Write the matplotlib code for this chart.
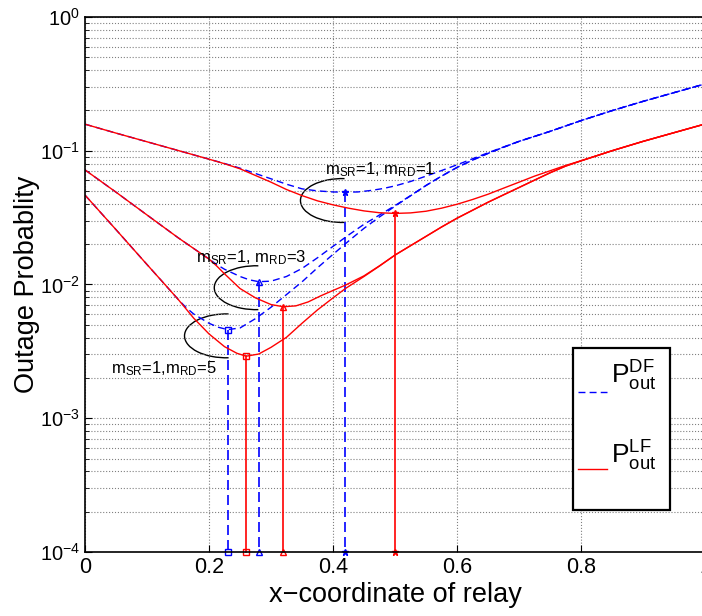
import numpy as np
import matplotlib
matplotlib.use("Agg")
import matplotlib.pyplot as plt
from matplotlib.patches import Arc, Rectangle

plt.rcParams['font.family'] = ['Liberation Sans', 'DejaVu Sans']
plt.rcParams['mathtext.fontset'] = 'custom'
plt.rcParams['mathtext.rm'] = 'Liberation Sans'
plt.rcParams['mathtext.it'] = 'Liberation Sans:italic'
plt.rcParams['mathtext.default'] = 'regular'

# m_SR=1, m_RD=1
x_df1 = [0, 0.05, 0.1, 0.15, 0.2, 0.225, 0.25, 0.275, 0.3, 0.325, 0.35, 0.375, 0.4, 0.42, 0.44,
         0.46, 0.48, 0.5, 0.525, 0.55, 0.575, 0.6, 0.625, 0.65, 0.675, 0.7, 0.75, 0.8, 0.85,
         0.9, 0.95, 1.0]
p_df1 = [0.158, 0.1355, 0.1167, 0.1005, 0.0865, 0.0803, 0.0741, 0.0676, 0.0617, 0.0562, 0.0519,
         0.0501, 0.0492, 0.0490, 0.0492, 0.0504, 0.0521, 0.0546, 0.0589, 0.0646, 0.0711, 0.0785,
         0.0871, 0.0966, 0.1067, 0.1175, 0.1396, 0.168, 0.1995, 0.234, 0.272, 0.316]
x_lf1 = [0, 0.05, 0.1, 0.15, 0.2, 0.225, 0.25, 0.275, 0.3, 0.325, 0.35, 0.375, 0.4, 0.425, 0.45,
         0.475, 0.5, 0.525, 0.55, 0.575, 0.6, 0.625, 0.65, 0.675, 0.7, 0.725, 0.75, 0.775, 0.8,
         0.85, 0.9, 0.95, 1.0]
p_lf1 = [0.158, 0.1355, 0.1167, 0.1005, 0.0865, 0.0800, 0.0733, 0.0653, 0.0582, 0.0513, 0.0462,
         0.0422, 0.0394, 0.0372, 0.0355, 0.0344, 0.0340, 0.0343, 0.0353, 0.0372, 0.0398, 0.0432,
         0.0473, 0.0525, 0.0582, 0.0646, 0.0708, 0.0776, 0.0841, 0.100, 0.1175, 0.1365, 0.1585]

# m_SR=1, m_RD=3
x_df3 = [0, 0.05, 0.1, 0.15, 0.175, 0.2, 0.2125, 0.225, 0.25, 0.265, 0.28, 0.3, 0.325, 0.35,
         0.375, 0.4, 0.425, 0.45, 0.475, 0.5, 0.525, 0.55, 0.575, 0.6, 0.625, 0.65, 0.675, 0.7,
         0.75, 0.8, 0.85, 0.9, 0.95, 1.0]
p_df3 = [0.0719, 0.0490, 0.0331, 0.0224, 0.01862, 0.0155, 0.0141, 0.0130, 0.01148, 0.01084,
         0.01050, 0.01059, 0.01148, 0.01318, 0.01585, 0.01928, 0.02344, 0.0282, 0.0331, 0.0389,
         0.0462, 0.0550, 0.0646, 0.0750, 0.0851, 0.0955, 0.1062, 0.1175, 0.1396, 0.168, 0.1995,
         0.234, 0.272, 0.316]
x_lf3 = [0, 0.05, 0.1, 0.15, 0.175, 0.2, 0.2125, 0.225, 0.25, 0.275, 0.3, 0.32, 0.34, 0.36, 0.38,
         0.4, 0.42, 0.45, 0.475, 0.5, 0.525, 0.55, 0.575, 0.6, 0.625, 0.65, 0.675, 0.7, 0.725,
         0.75, 0.775, 0.8, 0.85, 0.9, 0.95, 1.0]
p_lf3 = [0.0719, 0.0490, 0.0331, 0.0224, 0.01862, 0.0155, 0.01374, 0.01202, 0.00933, 0.00794,
         0.00708, 0.00682, 0.00692, 0.00741, 0.00822, 0.00902, 0.00989, 0.01161, 0.0138, 0.0166,
         0.0195, 0.0229, 0.0269, 0.0313, 0.0359, 0.0412, 0.0468, 0.0531, 0.0603, 0.0684, 0.0767,
         0.0841, 0.100, 0.1175, 0.1365, 0.1585]

# m_SR=1, m_RD=5
x_df5 = [0, 0.05, 0.1, 0.125, 0.15, 0.1625, 0.175, 0.2, 0.215, 0.23, 0.25, 0.275, 0.3, 0.325,
         0.35, 0.375, 0.4, 0.425, 0.45, 0.475, 0.5, 0.525, 0.55, 0.575, 0.6, 0.625, 0.65, 0.675,
         0.7, 0.75, 0.8, 0.85, 0.9, 0.95, 1.0]
p_df5 = [0.0466, 0.0257, 0.0141, 0.01047, 0.00776, 0.00676, 0.00603, 0.00513, 0.00479, 0.00460,
         0.00473, 0.00556, 0.00676, 0.00841, 0.01047, 0.01334, 0.0168, 0.0211, 0.0263, 0.0320,
         0.0385, 0.0460, 0.0550, 0.0646, 0.0750, 0.0851, 0.0955, 0.1062, 0.1175, 0.1396, 0.168,
         0.1995, 0.234, 0.272, 0.316]
x_lf5 = [0, 0.05, 0.1, 0.125, 0.15, 0.1625, 0.175, 0.2, 0.225, 0.245, 0.26, 0.28, 0.3, 0.325,
         0.35, 0.375, 0.4, 0.42, 0.45, 0.475, 0.5, 0.525, 0.55, 0.575, 0.6, 0.625, 0.65, 0.675,
         0.7, 0.725, 0.75, 0.775, 0.8, 0.85, 0.9, 0.95, 1.0]
p_lf5 = [0.0466, 0.0257, 0.0141, 0.01047, 0.00776, 0.00661, 0.00562, 0.00427, 0.00343, 0.00306,
         0.00291, 0.00302, 0.00339, 0.00403, 0.00513, 0.00646, 0.00794, 0.00933, 0.01148, 0.01374,
         0.0166, 0.0195, 0.0229, 0.0269, 0.0313, 0.0359, 0.0412, 0.0468, 0.0531, 0.0603, 0.0684,
         0.0767, 0.0841, 0.100, 0.1175, 0.1365, 0.1585]

df_curves = [(x_df1, p_df1, '*'), (x_df3, p_df3, '^'), (x_df5, p_df5, 's')]
lf_curves = [(x_lf1, p_lf1, '*'), (x_lf3, p_lf3, '^'), (x_lf5, p_lf5, 's')]

labels = [r'm$_{SR}$=1, m$_{RD}$=1', r'm$_{SR}$=1, m$_{RD}$=3', r'm$_{SR}$=1,m$_{RD}$=5']
legend_labels = [r'P$_{out}^{DF}$', r'P$_{out}^{LF}$']

ymin = 1e-4

fig = plt.figure(figsize=(7.02, 6.16), dpi=100)
ax = fig.add_axes([0.1211, 0.1039, 0.8832, 0.8685])

# curves + stems down to the axis at the optimum relay position
for x, p, m in df_curves:
    ax.plot(x, p, color='blue', lw=1.0, dashes=(5, 3))
    i = int(np.argmin(p))
    ax.plot([x[i], x[i]], [p[i], ymin], color='blue', lw=1.2, dashes=(6, 3),
            marker=m, ms=5, mfc='none' if m != '*' else 'blue', mew=1.0, clip_on=False)
for x, p, m in lf_curves:
    ax.plot(x, p, color='red', lw=1.0)
    i = int(np.argmin(p))
    ax.plot([x[i], x[i]], [p[i], ymin], color='red', lw=1.2,
            marker=m, ms=5, mfc='none' if m != '*' else 'red', mew=1.0, clip_on=False)

# legend drawn by hand (MATLAB style box)
ax.add_patch(Rectangle((0.787, 0.0785), 0.1565, 0.3025, transform=ax.transAxes, fc='white',
                       ec='black', lw=1.6, zorder=5))
ax.plot([0.795, 0.842], [0.299, 0.299], transform=ax.transAxes, color='blue', lw=1.0,
        dashes=(5, 3), zorder=6)
ax.plot([0.795, 0.842], [0.155, 0.155], transform=ax.transAxes, color='red', lw=1.0, zorder=6)
ax.text(0.849, 0.314, legend_labels[0], transform=ax.transAxes, fontsize=19, va='baseline',
        zorder=6)
ax.text(0.849, 0.166, legend_labels[1], transform=ax.transAxes, fontsize=19, va='baseline',
        zorder=6)

# labels with arcs
ax.text(0.387, 0.0728, labels[0], fontsize=12, va='center', ha='left')
ax.text(0.179, 0.0160, labels[1], fontsize=12, va='center', ha='left')
ax.text(0.042, 0.00234, labels[2], fontsize=12, va='center', ha='left')
for cx, cy in [(0.415, 0.657), (0.276, 0.494), (0.228, 0.404)]:
    ax.add_patch(Arc((cx, cy), 0.135, 0.082, theta1=85, theta2=275, transform=ax.transAxes,
                     color='black', lw=1.0))

ax.set_yscale('log')
ax.set_xlim(0, 1)
ax.set_ylim(1e-4, 1)
ax.set_xticks([0, 0.2, 0.4, 0.6, 0.8, 1.0])
ax.set_xticklabels(['0', '0.2', '0.4', '0.6', '0.8', '1'])
ax.tick_params(axis='both', which='both', direction='in')
ax.tick_params(axis='x', labelsize=15.5)
ax.tick_params(axis='y', labelsize=14.5)
ax.tick_params(axis='both', which='major', length=5)
ax.tick_params(axis='y', which='minor', length=3)
ax.grid(True, which='major', ls=':', color='gray', lw=0.8)
ax.grid(True, which='minor', axis='y', ls=':', color='gray', lw=0.8)
for s in ax.spines.values():
    s.set_linewidth(1.2)

ax.set_xlabel('x\u2212coordinate of relay', fontsize=19.5, labelpad=3)
ax.set_ylabel('Outage Probablity', fontsize=19.5, labelpad=0)

fig.savefig('out.png', dpi=100)
